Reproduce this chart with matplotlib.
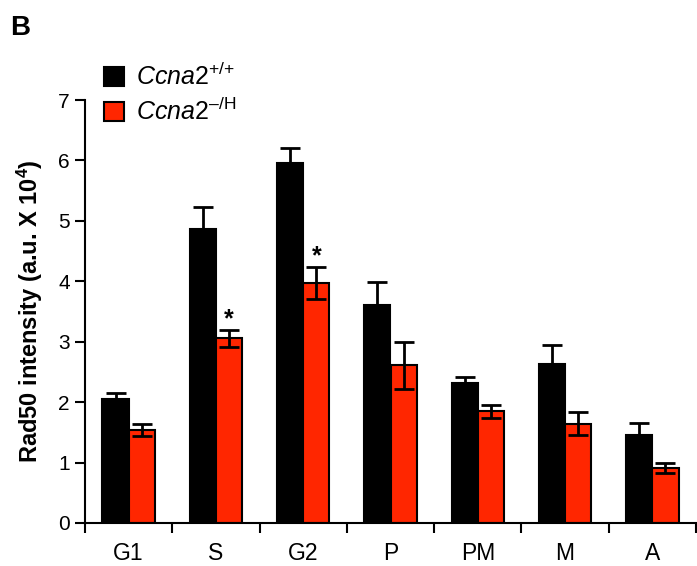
import matplotlib
matplotlib.use("Agg")
import matplotlib.pyplot as plt
import numpy as np

plt.rcParams['font.family'] = ['Liberation Sans', 'DejaVu Sans']
plt.rcParams['mathtext.fontset'] = 'custom'
plt.rcParams['mathtext.rm'] = 'Liberation Sans'
plt.rcParams['mathtext.it'] = 'Liberation Sans:italic'
plt.rcParams['mathtext.bf'] = 'Liberation Sans:bold'

phases = ['G1', 'S', 'G2', 'P', 'PM', 'M', 'A']
wt_mean = [2.05, 4.87, 5.95, 3.61, 2.31, 2.63, 1.45]
wt_err = [0.10, 0.36, 0.26, 0.38, 0.11, 0.32, 0.20]
mut_mean = [1.54, 3.06, 3.97, 2.61, 1.85, 1.64, 0.91]
mut_err = [0.10, 0.14, 0.27, 0.39, 0.11, 0.19, 0.08]
signif = [False, True, True, False, False, False, False]

red = '#ff2600'
x = np.arange(len(phases)) + 0.5
w = 0.3

fig = plt.figure(figsize=(6.97, 5.66), dpi=100)
ax = fig.add_axes([85 / 697, 43 / 566, 611 / 697, 423 / 566])

ax.bar(x - w / 2, wt_mean, w, color='black', edgecolor='black', linewidth=1.5,
       yerr=wt_err, error_kw=dict(ecolor='black', elinewidth=2, capsize=7, capthick=2),
       label=r'$\it{Ccna2}^{\rm {+}/{+}}$', zorder=2)
ax.bar(x + w / 2, mut_mean, w, color=red, edgecolor='black', linewidth=1.5,
       yerr=mut_err, error_kw=dict(ecolor='black', elinewidth=2, capsize=7, capthick=2),
       label=r'$\it{Ccna2}^{\rm ' + '\u2013' + r'/H}$', zorder=2)

for xi, m, e, s in zip(x, mut_mean, mut_err, signif):
    if s:
        ax.text(xi + w / 2, m + e - 0.02, '*', ha='center', va='bottom',
                fontsize=18, fontweight='bold')

ax.set_xlim(0, 7)
ax.set_ylim(0, 7)
ax.set_xticks(np.arange(0, 8))
ax.set_xticklabels([])
ax.set_xticks(x, minor=True)
ax.set_xticklabels(phases, minor=True)
ax.tick_params(axis='x', which='minor', length=0, pad=14, labelsize=16.5)
ax.tick_params(axis='x', which='major', length=7, width=1.5, direction='out')
ax.tick_params(axis='y', length=7, width=1.5, labelsize=15, pad=4)
ax.set_yticks(range(0, 8))

for sp in ['top', 'right']:
    ax.spines[sp].set_visible(False)
for sp in ['left', 'bottom']:
    ax.spines[sp].set_linewidth(1.5)

ax.set_ylabel(r'Rad50 intensity (a.u. X 10$^\mathbf{4}$)', fontsize=17,
              fontweight='bold', labelpad=9)

leg = ax.legend(loc='upper left', bbox_to_anchor=(104 / 697, 1 - 63 / 566),
                bbox_transform=fig.transFigure, frameon=False,
                fontsize=18, handlelength=0.8, handleheight=0.8, handletextpad=0.5,
                labelspacing=0.33, borderaxespad=0, borderpad=0)

fig.text(10 / 697, 1 - 35 / 566, 'B', fontsize=20, fontweight='bold')

plt.savefig('out.png', dpi=100)
